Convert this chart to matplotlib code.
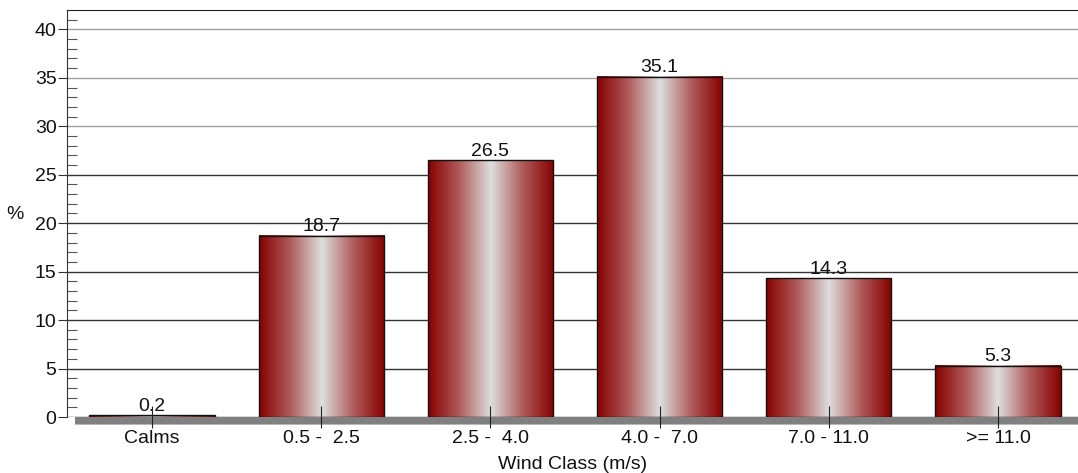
import matplotlib
matplotlib.use("Agg")
import matplotlib.pyplot as plt
import numpy as np
from matplotlib.colors import LinearSegmentedColormap
from matplotlib.patches import Rectangle
import matplotlib.transforms as mtransforms

categories = ["Calms", "0.5 -  2.5", "2.5 -  4.0", "4.0 -  7.0", "7.0 - 11.0", ">= 11.0"]
values = [0.2, 18.7, 26.5, 35.1, 14.3, 5.3]
value_labels = ["0.2", "18.7", "26.5", "35.1", "14.3", "5.3"]

plt.rcParams['font.family'] = ['Liberation Sans', 'DejaVu Sans']
FS = 14

W, H = 1078, 473
fig = plt.figure(figsize=(W / 100, H / 100), dpi=100)
ax = fig.add_axes([67 / W, 1 - 417 / H, (W - 67) / W, (417 - 10) / H])
ax.set_xlim(-0.502, 5.473)
ax.set_ylim(0, 42)

cmap = LinearSegmentedColormap.from_list("barg", ["#870000", "#b05c5c", "#dedede", "#b05c5c", "#870000"])
grad = np.linspace(0, 1, 256).reshape(1, -1)
bw = 0.74
x = np.arange(len(categories))
for xi, v, lab in zip(x, values, value_labels):
    ax.imshow(grad, cmap=cmap, aspect='auto', extent=(xi - bw / 2, xi + bw / 2, 0, v),
              zorder=3, interpolation='bicubic')
    ax.add_patch(Rectangle((xi - bw / 2, 0), bw, v, fill=False, edgecolor='#111111',
                           linewidth=1.0, zorder=4))
    ax.text(xi, v + 0.05, lab, ha='center', va='bottom', fontsize=FS, color='#111111', zorder=5)

# floor
trans = mtransforms.blended_transform_factory(ax.transAxes, ax.transData)
ax.add_patch(Rectangle((8 / (W - 67), -0.75), 1.0, 0.75, transform=trans, facecolor='#808080',
                       edgecolor='none', clip_on=False, zorder=2))
ax.add_patch(Rectangle((8 / (W - 67), -0.85), 1.0, 0.12, transform=trans, facecolor='#b8b8b8',
                       edgecolor='none', clip_on=False, zorder=2))

ax.set_xticks(x)
ax.set_xticklabels(categories, fontsize=FS, color='#111111')
ax.tick_params(axis='x', direction='inout', length=16, width=0.8, color='#222222', pad=1.5)
ax.xaxis.set_zorder(6)
ax.set_yticks(np.arange(0, 41, 5))
ax.set_yticks(np.arange(0, 42, 1), minor=True)
ax.tick_params(axis='y', which='major', direction='out', length=6.5, width=0.8, labelsize=FS,
               labelcolor='#111111', color='#333333', pad=1)
ax.tick_params(axis='y', which='minor', direction='in', length=7, width=0.8, color='#555555')

ax.grid(axis='y', which='major')
for tv, gl in zip(ax.get_yticks(), ax.yaxis.get_gridlines()):
    gl.set_linewidth(1.0)
    gl.set_color('#a0a0a0' if tv >= 30 else '#333333')
ax.yaxis.set_zorder(1)

ax.spines['bottom'].set_visible(False)
ax.spines['right'].set_visible(False)
ax.spines['top'].set_color('#222222')
ax.spines['left'].set_color('#333333')
ax.spines['left'].set_linewidth(0.8)

ax.set_xlabel("Wind Class (m/s)", fontsize=FS, color='#111111', labelpad=6)
ax.text(15 / W, 1 - 214 / H, "%", transform=fig.transFigure, ha='center', va='center',
        fontsize=FS, color='#111111')

fig.savefig("out.png", dpi=100)
